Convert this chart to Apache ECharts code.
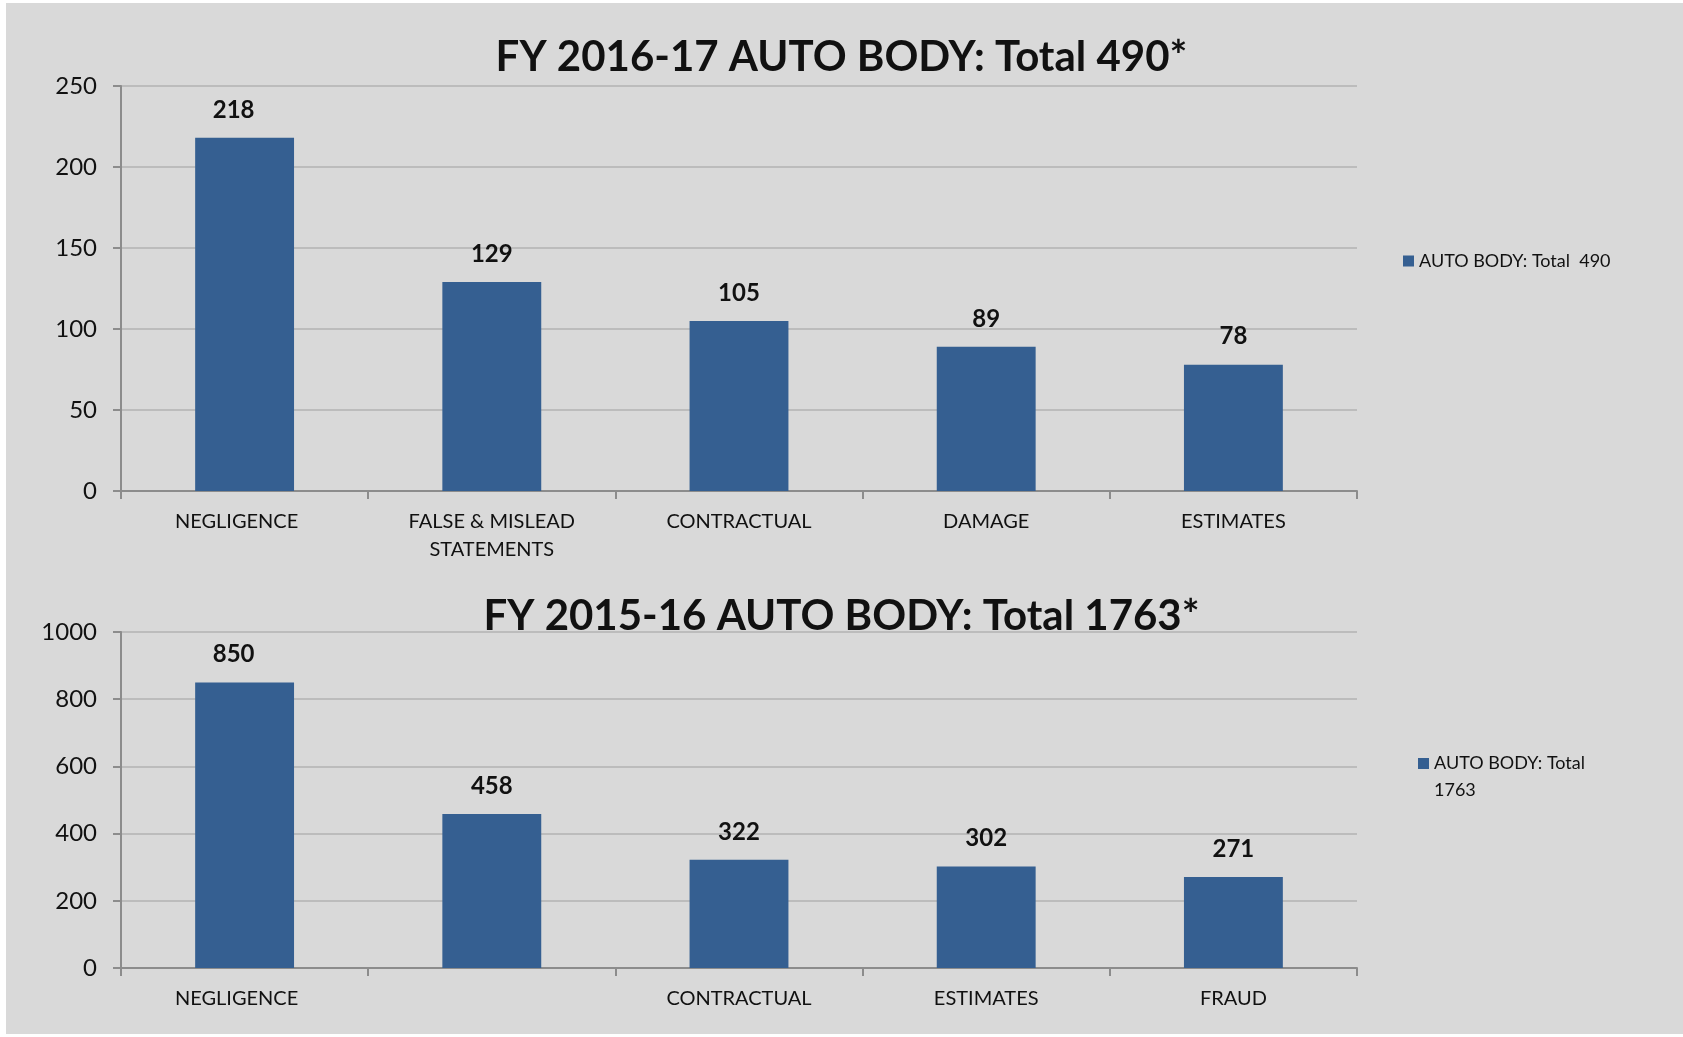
<!DOCTYPE html>
<html>
<head>
<meta charset="utf-8">
<script src="https://cdn.jsdelivr.net/npm/echarts@6/dist/echarts.min.js"></script>
<style>
  html, body { margin: 0; padding: 0; background: #ffffff; }
  #myChart { width: 1683px; height: 1037px; }
</style>
</head>
<body>
<div id="myChart"></div>
<script>
// FY 2016-17
const title2017 = 'FY 2016-17 AUTO BODY: Total 490*'
const series2017 = 'AUTO BODY: Total  490'
const categories2017 = ['NEGLIGENCE', 'FALSE & MISLEAD\nSTATEMENTS', 'CONTRACTUAL', 'DAMAGE', 'ESTIMATES']
const values2017 = [218, 129, 105, 89, 78]

// FY 2015-16 (second label is blank in the original)
const title2016 = 'FY 2015-16 AUTO BODY: Total 1763*'
const series2016 = 'AUTO BODY: Total 1763'
const categories2016 = ['NEGLIGENCE', '', 'CONTRACTUAL', 'ESTIMATES', 'FRAUD']
const values2016 = [850, 458, 322, 302, 271]

const FONT = 'Lato, "Open Sans", sans-serif'
const barColor = '#355f91'
const axisColor = '#8c8c8c'
const gridColor = '#bcbcbc'

const myChart = echarts.init(document.getElementById('myChart'))

// the first column's labels sit a little left of the bar in the original
function shiftFirst(list, build) {
  return list.map((v, i) => (i === 0 ? build(v) : v))
}

function xAxisFor(gridIndex, data) {
  return {
    type: 'category',
    gridIndex: gridIndex,
    data: shiftFirst(data, v => ({ value: v, textStyle: { padding: [0, 16, 0, 0] } })),
    axisLine: { lineStyle: { color: axisColor, width: 2 } },
    axisTick: { show: true, length: 8, lineStyle: { color: axisColor, width: 2 } },
    axisLabel: {
      interval: 0,
      margin: 17,
      color: '#111',
      fontFamily: FONT,
      fontSize: 20,
      lineHeight: 28
    }
  }
}

function yAxisFor(gridIndex, max, interval) {
  return {
    type: 'value',
    gridIndex: gridIndex,
    min: 0,
    max: max,
    interval: interval,
    axisLine: { show: true, lineStyle: { color: axisColor, width: 2 } },
    axisTick: { show: true, length: 8, lineStyle: { color: axisColor, width: 2 } },
    axisLabel: {
      margin: 24,
      color: '#111',
      fontFamily: FONT,
      fontSize: 24,
      formatter: v => String(v)
    },
    splitLine: { lineStyle: { color: gridColor, width: 2 } }
  }
}

function barSeries(name, idx, data) {
  return {
    name: name,
    type: 'bar',
    xAxisIndex: idx,
    yAxisIndex: idx,
    barWidth: '40%',
    itemStyle: { color: barColor },
    label: {
      show: true,
      position: 'top',
      distance: 16,
      color: '#111',
      fontFamily: FONT,
      fontWeight: 'bold',
      fontSize: 24
    },
    data: shiftFirst(data, v => ({ value: v, label: { offset: [-11, 0] } }))
  }
}

const option = {
  backgroundColor: '#ffffff',
  animation: false,
  graphic: [
    { type: 'rect', z: -10, silent: true, shape: { x: 6, y: 3, width: 1677, height: 1031 }, style: { fill: '#d9d9d9' } }
  ],
  title: [
    { text: title2017, left: 'center', top: 31, textStyle: { fontFamily: FONT, fontWeight: 'bold', fontSize: 42, color: '#111' } },
    { text: title2016, left: 'center', top: 590, textStyle: { fontFamily: FONT, fontWeight: 'bold', fontSize: 42, color: '#111' } }
  ],
  legend: [
    {
      data: [series2017],
      left: 1398,
      top: 247,
      icon: 'rect',
      itemWidth: 11,
      itemHeight: 11,
      textStyle: { fontFamily: FONT, fontSize: 18, color: '#111' }
    },
    {
      data: [series2016],
      left: 1413,
      top: 718,
      icon: 'rect',
      itemWidth: 11,
      itemHeight: 11,
      // leading blank line keeps the square beside the first line
      formatter: () => '\nAUTO BODY: Total\n1763',
      textStyle: { fontFamily: FONT, fontSize: 18, lineHeight: 27, color: '#111' }
    }
  ],
  grid: [
    { left: 121, right: 326, top: 86, height: 405 },
    { left: 121, right: 326, top: 632, height: 336 }
  ],
  xAxis: [xAxisFor(0, categories2017), xAxisFor(1, categories2016)],
  yAxis: [yAxisFor(0, 250, 50), yAxisFor(1, 1000, 200)],
  series: [
    barSeries(series2017, 0, values2017),
    barSeries(series2016, 1, values2016)
  ]
}
myChart.setOption(option)
</script>
</body>
</html>
